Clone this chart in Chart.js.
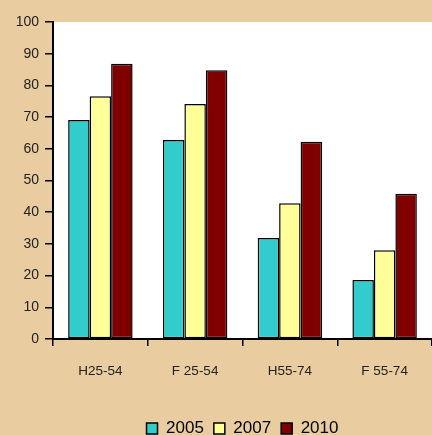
<!DOCTYPE html>
<html>
<head>
<meta charset="utf-8">
<script src="https://cdn.jsdelivr.net/npm/chart.js@4/dist/chart.umd.min.js"></script>
<style>
  html, body { margin: 0; padding: 0; background: #E9CDA0; }
  #wrap { width: 432px; height: 435px; }
</style>
</head>
<body>
<div id="wrap"><canvas id="chart" width="432" height="435"></canvas></div>
<script>
const categories = ["H25-54", "F 25-54", "H55-74", "F 55-74"];
const years = ["2005", "2007", "2010"];
const values2005 = [69.1, 62.8, 31.9, 18.6];
const values2007 = [76.6, 74.1, 42.8, 28.0];
const values2010 = [86.8, 84.8, 62.2, 45.8];
const yTicks = [0, 10, 20, 30, 40, 50, 60, 70, 80, 90, 100];

const colors = ["#33CCCC", "#FFFF99", "#800000"];

// white plot area on the tan background, legend centred under the plot
const plotBg = {
  id: "plotBg",
  afterLayout(chart) {
    const lg = chart.legend;
    lg.left = chart.chartArea.left;
    lg.top += 12;
    lg.bottom += 12;
  },
  beforeDraw(chart) {
    const { ctx, chartArea: a } = chart;
    ctx.save();
    ctx.fillStyle = "#E9CDA0";
    ctx.fillRect(0, 0, chart.width, chart.height);
    ctx.fillStyle = "#ffffff";
    ctx.fillRect(a.left, a.top, a.right - a.left, a.bottom - a.top);
    ctx.restore();
  }
};

const ctx = document.getElementById("chart").getContext("2d");
new Chart(ctx, {
  type: "bar",
  data: {
    labels: categories,
    datasets: [values2005, values2007, values2010].map((vals, i) => ({
      label: years[i],
      data: vals,
      backgroundColor: colors[i],
      borderColor: "#000000",
      borderWidth: 1.5,
      borderSkipped: false,
      categoryPercentage: 0.68,
      barPercentage: 1
    }))
  },
  options: {
    responsive: false,
    animation: false,
    layout: { padding: { top: 22, right: 0, left: 0, bottom: 0 } },
    plugins: {
      tooltip: { enabled: false },
      legend: {
        position: "bottom",
        labels: {
          color: "#000000",
          font: { family: "Liberation Sans", size: 17 },
          boxWidth: 11,
          boxHeight: 11,
          padding: 10,
          generateLabels(chart) {
            return chart.data.datasets.map((ds, i) => ({
              text: ds.label,
              fillStyle: ds.backgroundColor,
              strokeStyle: "#000000",
              lineWidth: 1.5,
              datasetIndex: i
            }));
          }
        }
      }
    },
    scales: {
      x: {
        offset: true,
        border: { color: "#000000", width: 2 },
        grid: { drawOnChartArea: false, color: "#000000", tickLength: 7, lineWidth: 1.5, offset: true },
        ticks: { color: "#222222", font: { family: "Liberation Sans", size: 13.5 }, padding: 17, maxRotation: 0 },
        afterFit(s) { s.height = 59; }
      },
      y: {
        min: 0,
        max: 100,
        afterBuildTicks(s) { s.ticks = yTicks.map(v => ({ value: v })); },
        border: { color: "#000000", width: 2 },
        grid: { drawOnChartArea: false, color: "#000000", tickLength: 8, lineWidth: 1.5 },
        ticks: { color: "#222222", font: { family: "Liberation Sans", size: 14 }, padding: 6 },
        afterFit(s) { s.width = 53; }
      }
    }
  },
  plugins: [plotBg]
});
</script>
</body>
</html>
